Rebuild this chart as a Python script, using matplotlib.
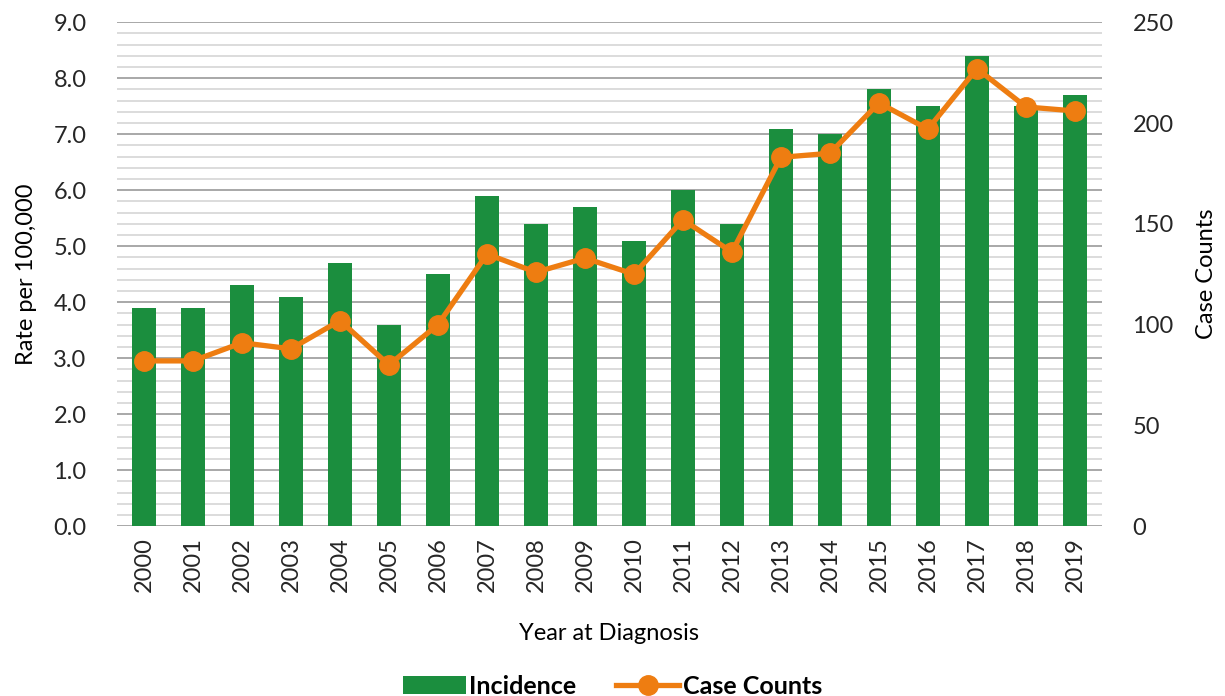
import numpy as np
import matplotlib.pyplot as plt
from matplotlib.ticker import MultipleLocator

plt.rcParams['font.family'] = ['Lato', 'DejaVu Sans']

years = [str(y) for y in range(2000, 2020)]
incidence = [3.9, 3.9, 4.3, 4.1, 4.7, 3.6, 4.5, 5.9, 5.4, 5.7,
             5.1, 6.0, 5.4, 7.1, 7.0, 7.8, 7.5, 8.4, 7.5, 7.7]
case_counts = [82, 82, 91, 88, 102, 80, 100, 135, 126, 133,
               125, 152, 136, 183, 185, 210, 197, 227, 208, 206]

green = "#1B8E3E"
orange = "#EE7D11"
fs = 17

fig = plt.figure(figsize=(12.25, 6.96), dpi=100)
ax = fig.add_axes([0.0955, 0.244, 0.804, 0.724])
x = np.arange(len(years))

bars = ax.bar(x, incidence, width=0.49, color=green, label="Incidence", zorder=3)
ax.set_ylim(0, 9)
ax.set_xlim(-0.55, len(years) - 0.45)
ax.yaxis.set_minor_locator(MultipleLocator(0.2))
ax.set_yticks(np.arange(0, 9.1, 1.0))
ax.set_yticklabels([f"{v:.1f}" for v in np.arange(0, 9.1, 1.0)])
ax.grid(which='minor', axis='y', color='#DCDCDC', linewidth=1.4, zorder=0)
ax.grid(which='major', axis='y', color='#A8A8A8', linewidth=1.4, zorder=0)
ax.set_xticks(x)
ax.set_xticklabels(years, rotation=90)
ax.tick_params(axis='both', which='both', length=0, labelsize=fs, colors='#262626')
ax.tick_params(axis='x', pad=8)
ax.tick_params(axis='y', pad=22)
for s in ax.spines.values():
    s.set_visible(False)
ax.set_ylabel("Rate per 100,000", fontsize=fs, labelpad=12)
ax.set_xlabel("Year at Diagnosis", fontsize=fs, labelpad=22)

ax2 = ax.twinx()
line, = ax2.plot(x, case_counts, color=orange, linewidth=3.8, marker='o',
                 markersize=14, label="Case Counts", zorder=4)
ax2.set_ylim(0, 250)
ax2.set_yticks(np.arange(0, 251, 50))
ax2.tick_params(axis='y', length=0, labelsize=fs, colors='#262626', pad=22)
for s in ax2.spines.values():
    s.set_visible(False)
ax2.set_ylabel("Case Counts", fontsize=fs, labelpad=16)

fig.legend(handles=[bars, line], loc='lower center', bbox_to_anchor=(0.5, -0.035),
           ncol=2, frameon=False, prop={'weight': 'bold', 'size': 18},
           handlelength=2.5, columnspacing=1.6, handletextpad=0.15)

fig.savefig("out.png", dpi=100)
